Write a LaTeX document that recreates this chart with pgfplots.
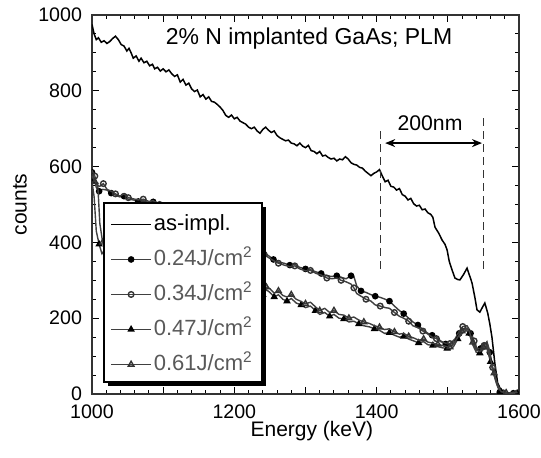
\documentclass[border=0pt]{standalone}
\usepackage{pgfplots}
\pgfplotsset{compat=1.18}
\usepackage{fontspec}
\setmainfont{Liberation Sans}
\usetikzlibrary{arrows.meta}
\begin{document}
\begin{tikzpicture}
\useasboundingbox (-46pt,-32pt) rectangle (224.5pt,197pt);
\begin{axis}[
  at={(0,0)}, anchor=south west,
  scale only axis, width=213.5pt, height=189.5pt,
  xmin=1000, xmax=1600, ymin=0, ymax=1000,
  clip marker paths=true,
  xtick={1000,1100,...,1600}, xticklabels={1000,,1200,,1400,,1600},
  ytick={0,200,...,1000}, minor x tick num=4, minor y tick num=3,
  major tick length=3.5pt, minor tick length=2pt,
  tick style={black, line width=0.5pt},
  axis line style={line width=0.6pt, black!80},
  /pgf/number format/assume math mode=true,
  /pgf/number format/1000 sep={},
  ticklabel style={font=\fontsize{9.8}{11}\selectfont},
  yticklabel style={xshift=-1.5pt},
  xticklabel style={yshift=-2pt},
  xlabel={Energy (keV)}, ylabel={counts},
  label style={font=\fontsize{10.5}{12}\selectfont},
  xlabel style={at={(axis description cs:0.515,-0.097)}, anchor=center},
  ylabel style={at={(axis description cs:-0.169,0.5)}, anchor=center},
  legend cell align=left,
  legend style={at={(axis description cs:0.028,0.032)}, anchor=south west,
    draw=none, fill=none,
    font=\fontsize{11}{12}\selectfont,
    inner xsep=3pt, inner ysep=2pt, row sep=4.5pt,
    nodes={inner sep=1pt, text height=8.5pt, text depth=2.5pt}},
  legend image code/.code={\draw[mark repeat=2,mark phase=2,#1] plot coordinates {(0pt,0pt)(10pt,0pt)(20pt,0pt)};},
]
% as-implanted
\addplot[black, line width=0.75pt, no marks] coordinates {
(1000,975)(1003,950)(1006,935)(1009,940)(1013,928)(1017,932)(1021,925)(1025,930)(1029,938)(1033,944)(1037,935)(1041,922)(1045,918)(1049,905)(1052,912)(1055,900)(1058,886)(1062,892)(1066,878)(1069,886)(1073,874)(1077,878)(1081,866)(1085,870)(1088,858)(1092,862)(1096,852)(1100,858)(1104,850)(1108,855)(1112,845)(1116,838)(1120,842)(1124,823)(1128,830)(1132,815)(1136,820)(1140,805)(1144,798)(1148,802)(1152,784)(1156,790)(1160,778)(1164,784)(1168,772)(1172,770)(1176,764)(1180,757)(1184,748)(1188,735)(1192,730)(1196,736)(1200,726)(1204,730)(1208,720)(1212,716)(1216,712)(1220,704)(1224,700)(1228,704)(1232,694)(1236,688)(1240,698)(1244,704)(1248,696)(1252,690)(1256,694)(1260,682)(1264,676)(1268,672)(1272,668)(1276,670)(1280,662)(1284,660)(1288,655)(1292,662)(1296,654)(1300,650)(1304,656)(1308,642)(1312,640)(1316,634)(1320,640)(1324,628)(1328,630)(1332,624)(1336,620)(1340,622)(1344,615)(1348,620)(1352,618)(1356,626)(1360,620)(1364,610)(1368,606)(1372,604)(1376,598)(1380,596)(1384,588)(1388,582)(1392,576)(1396,582)(1400,586)(1404,592)(1408,575)(1412,560)(1416,564)(1420,548)(1424,546)(1428,538)(1432,542)(1436,526)(1440,522)(1444,512)(1448,516)(1452,502)(1456,496)(1460,498)(1464,486)(1468,488)(1472,478)(1476,474)(1479,466)(1482,440)(1487,425)(1492,406)(1496,395)(1499,380)(1502,350)(1506,327)(1510,306)(1514,302)(1517,301)(1522,315)(1527,332)(1531,310)(1534,293)(1538,255)(1541,222)(1545,216)(1549,230)(1552,240)(1556,214)(1559,185)(1562,150)(1566,82)(1570,29)(1576,5)(1585,3)(1592,2)(1600,2)
};
\addlegendentry{as-impl.}
% 0.24 J/cm2
\addplot[black!75, line width=0.7pt, mark=*, mark size=1.3pt, mark repeat=3, mark options={solid, fill=black, draw=black}] coordinates {
(1000,585)(1003,570)(1006,545)(1010,535)(1015,540)(1021,538)(1027,530)(1033,525)(1039,520)(1045,522)(1051,514)(1058,512)(1065,508)(1072,510)(1080,505)(1086,507)(1095,498)(1105,485)(1115,475)(1125,465)(1135,452)(1145,440)(1155,430)(1165,420)(1175,410)(1185,400)(1195,390)(1205,382)(1215,375)(1225,368)(1235,362)(1242,372)(1248,365)(1255,355)(1262,348)(1270,345)(1278,340)(1285,342)(1292,334)(1300,330)(1307,328)(1315,322)(1322,318)(1330,312)(1337,310)(1344,312)(1350,308)(1357,304)(1364,312)(1368,310)(1372,285)(1378,272)(1385,268)(1392,262)(1398,258)(1405,255)(1412,250)(1418,245)(1425,232)(1432,220)(1438,212)(1445,200)(1451,190)(1458,182)(1465,170)(1472,160)(1478,155)(1484,150)(1490,140)(1497,132)(1503,130)(1510,140)(1516,160)(1521,172)(1527,174)(1532,160)(1537,135)(1541,116)(1546,120)(1551,132)(1555,134)(1559,110)(1563,63)(1568,30)(1573,5)(1578,2)(1585,0)(1592,2)(1598,0)
};
\addlegendentry{\textcolor{black!65}{0.24J/cm\textsuperscript{2}}}
% 0.34 J/cm2
\addplot[black!75, line width=0.7pt, mark=o, mark size=1.4pt, mark repeat=3, mark phase=2, mark options={solid, fill=white, draw=black!80}] coordinates {
(1000,590)(1004,575)(1007,550)(1011,548)(1016,555)(1021,540)(1027,535)(1033,528)(1039,522)(1045,528)(1051,518)(1058,515)(1065,512)(1072,514)(1080,508)(1086,510)(1095,500)(1105,488)(1115,478)(1125,462)(1135,455)(1145,442)(1155,428)(1165,418)(1175,412)(1185,398)(1195,392)(1205,380)(1215,372)(1225,366)(1235,360)(1242,368)(1248,360)(1255,352)(1262,345)(1270,340)(1278,336)(1285,338)(1292,330)(1300,325)(1307,326)(1315,318)(1322,314)(1330,306)(1337,304)(1344,306)(1350,300)(1357,296)(1364,290)(1368,280)(1372,265)(1378,258)(1385,250)(1392,245)(1398,235)(1405,232)(1412,228)(1418,226)(1425,215)(1432,205)(1438,200)(1445,192)(1451,180)(1458,175)(1465,166)(1472,158)(1478,150)(1484,146)(1490,138)(1497,134)(1503,133)(1510,145)(1516,165)(1521,178)(1527,180)(1532,165)(1537,140)(1541,120)(1546,118)(1551,128)(1555,138)(1559,112)(1563,70)(1568,35)(1573,8)(1578,3)(1585,2)(1592,5)(1598,3)
};
\addlegendentry{\textcolor{black!65}{0.34J/cm\textsuperscript{2}}}
% 0.47 J/cm2
\addplot[black!75, line width=0.7pt, mark=triangle*, mark size=1.5pt, mark repeat=3, mark options={solid, fill=black, draw=black}] coordinates {
(1000,560)(1003,520)(1006,430)(1010,395)(1014,370)(1018,380)(1030,365)(1045,355)(1060,345)(1075,338)(1090,330)(1105,322)(1120,315)(1135,308)(1150,300)(1165,295)(1180,288)(1195,282)(1210,276)(1225,270)(1235,265)(1240,262)(1245,275)(1250,268)(1256,256)(1262,262)(1268,250)(1274,245)(1280,252)(1287,240)(1294,235)(1300,228)(1307,232)(1314,220)(1320,210)(1327,215)(1334,205)(1340,210)(1347,200)(1354,198)(1361,190)(1368,192)(1375,185)(1382,180)(1390,177)(1397,172)(1404,168)(1411,160)(1418,162)(1425,155)(1432,150)(1438,152)(1445,145)(1452,140)(1459,135)(1466,138)(1472,130)(1479,128)(1486,125)(1492,122)(1499,120)(1503,118)(1508,125)(1514,145)(1520,160)(1526,168)(1530,160)(1535,130)(1540,110)(1545,108)(1550,118)(1555,120)(1560,85)(1565,50)(1570,20)(1575,5)(1582,2)(1590,0)(1598,0)
};
\addlegendentry{\textcolor{black!65}{0.47J/cm\textsuperscript{2}}}
% 0.61 J/cm2
\addplot[black!75, line width=0.7pt, mark=triangle, mark size=1.6pt, mark repeat=3, mark phase=2, mark options={solid, fill=white, draw=black!80}] coordinates {
(1000,575)(1004,560)(1008,557)(1011,450)(1015,400)(1019,390)(1030,372)(1045,362)(1060,352)(1075,346)(1090,338)(1105,330)(1120,322)(1135,316)(1150,308)(1165,302)(1180,296)(1195,290)(1210,284)(1225,277)(1235,272)(1240,270)(1245,282)(1250,278)(1256,266)(1262,272)(1268,260)(1274,256)(1280,262)(1287,250)(1294,244)(1300,238)(1307,242)(1314,230)(1320,220)(1327,226)(1334,215)(1340,220)(1347,210)(1354,208)(1361,200)(1368,203)(1375,195)(1382,190)(1390,186)(1397,180)(1404,176)(1411,170)(1418,172)(1425,164)(1432,158)(1438,160)(1445,152)(1452,148)(1459,142)(1466,145)(1472,137)(1479,134)(1486,131)(1492,128)(1499,125)(1503,124)(1508,132)(1514,150)(1520,166)(1526,172)(1530,166)(1535,136)(1540,116)(1545,112)(1550,124)(1555,128)(1560,92)(1565,55)(1570,24)(1575,6)(1582,3)(1590,2)(1598,4)
};
\addlegendentry{\textcolor{black!65}{0.61J/cm\textsuperscript{2}}}
% legend box with shadow (legend itself is drawn on top without frame)
\fill[black] ([xshift=7.8pt,yshift=4.2pt]rel axis cs:0,0) rectangle ([xshift=86.8pt,yshift=93.7pt]rel axis cs:0,0);
\filldraw[fill=white, draw=black, line width=0.6pt] ([xshift=6pt,yshift=6pt]rel axis cs:0,0) rectangle ([xshift=85pt,yshift=95.5pt]rel axis cs:0,0);
% annotations
\draw[black!80, line width=0.7pt, dash pattern=on 4pt off 2.5pt] (axis cs:1405,330) -- (axis cs:1405,705);
\draw[black!80, line width=0.7pt, dash pattern=on 4pt off 2.5pt] (axis cs:1550,330) -- (axis cs:1550,730);
\draw[black, line width=0.7pt, {Stealth[length=5pt,width=4pt]}-{Stealth[length=5pt,width=4pt]}] (axis cs:1412,662) -- (axis cs:1548,662);
\node[font=\fontsize{10.6}{12}\selectfont, anchor=center] at (axis cs:1475,715) {200nm};
\node[font=\fontsize{11.5}{13}\selectfont, anchor=center] at (axis cs:1305,939) {2\% N implanted GaAs; PLM};
\end{axis}
\end{tikzpicture}
\end{document}
